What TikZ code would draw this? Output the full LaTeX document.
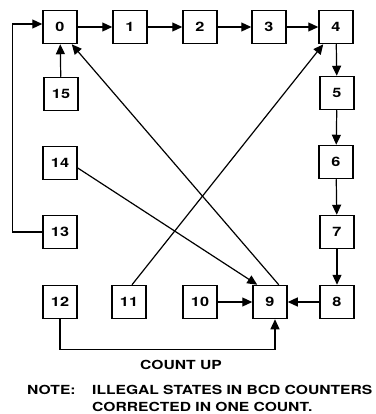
\documentclass[tikz,border=0pt]{standalone}
\usepackage{fontspec}
\usepackage{tikz}
\usetikzlibrary{arrows.meta}
\newfontfamily\diagfont{TeX Gyre Heros}[FakeStretch=1.25]

\begin{document}
\begin{tikzpicture}[x=1pt,y=-1pt,every node/.style={font=\diagfont\bfseries},
  st/.style={draw,line width=1.5pt,minimum width=34pt,minimum height=33pt,inner sep=0pt,font=\diagfont\bfseries\fontsize{13}{13}\selectfont},
  arr/.style={line width=1.2pt,-{Triangle[length=10pt,width=9pt]}},
  txt/.style={font=\diagfont\bfseries\fontsize{12.5}{12.5}\selectfont,inner sep=0pt}]
\useasboundingbox (0,0) rectangle (375,414);
% states, row by row
\node[st] (s0) at (60,27) {0}; \node[st] (s1) at (130,27) {1}; \node[st] (s2) at (200,27) {2}; \node[st] (s3) at (269,27) {3}; \node[st] (s4) at (336,27) {4};
\node[st] (s15) at (61,94) {15}; \node[st] (s5) at (337,93) {5};
\node[st] (s14) at (60,163) {14}; \node[st] (s6) at (336,162) {6};
\node[st] (s13) at (60,232) {13}; \node[st] (s7) at (337,232) {7};
\node[st] (s12) at (60,302) {12}; \node[st] (s11) at (129,302) {11}; \node[st] (s10) at (200,302) {10}; \node[st] (s9) at (270,302) {9}; \node[st] (s8) at (337,302) {8};
% legal count
\draw[arr] (s0)--(s1); \draw[arr] (s1)--(s2); \draw[arr] (s2)--(s3); \draw[arr] (s3)--(s4);
\draw[arr] (s4)--(s5); \draw[arr] (s5)--(s6); \draw[arr] (s6)--(s7); \draw[arr] (s7)--(s8);
\draw[arr] (s8)--(s9); \draw[arr] ([xshift=-9pt]s9.north east)--([xshift=-6pt]s0.south east);
% illegal states
\draw[arr] (s15)--(s0); \draw[arr] (s10)--(s9);
\draw[arr] (s13.west)--++(-30,0) |- ([yshift=3pt]s0.west);
\draw[arr] (s12.south)--++(0,30) -| ([xshift=5pt]s9.south);
\draw[arr] ([yshift=-5pt]s14.east)--([xshift=5pt]s9.north west);
\draw[arr] ([xshift=3pt]s11.north)--([xshift=5pt]s4.south west);
% captions
\node[txt] (cu) at (181,365) {COUNT UP};
\node[txt,anchor=west] (nt) at (27,390) {NOTE:};
\node[txt,anchor=west] (n1) at (92,390) {ILLEGAL STATES IN BCD COUNTERS};
\node[txt,anchor=west] (n2) at (92,407) {CORRECTED IN ONE COUNT.};
\end{tikzpicture}
\end{document}
